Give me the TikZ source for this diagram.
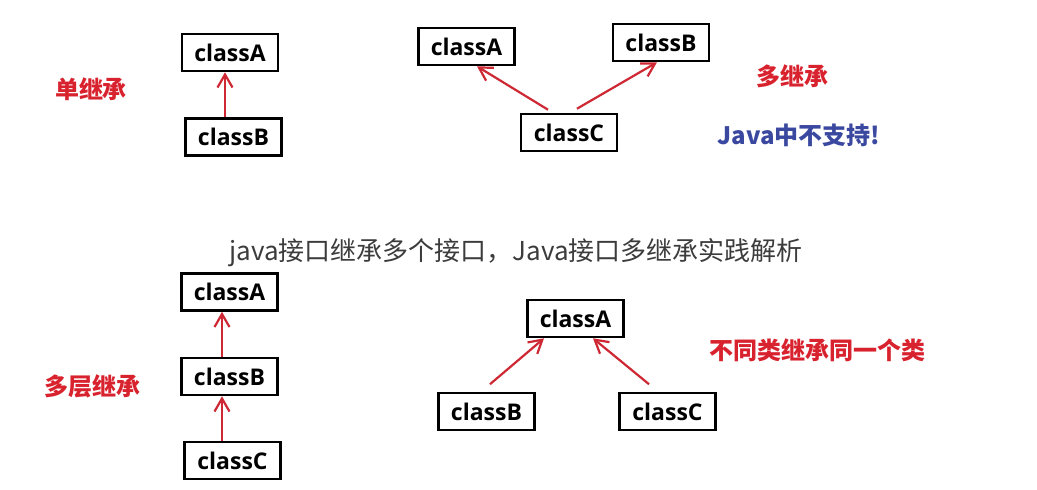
\documentclass[tikz,border=0pt]{standalone}
\usepackage{fontspec}
\setmainfont{Open Sans}
\newfontfamily\cjk{Noto Sans CJK SC}
\usetikzlibrary{arrows.meta}
\definecolor{lblred}{RGB}{216,34,46}
\definecolor{arrred}{RGB}{205,40,52}
\definecolor{lblblue}{RGB}{58,72,160}
\definecolor{titlegray}{RGB}{60,60,60}
\tikzset{
  classbox/.style={draw=black, line width=2.6pt, minimum width=96pt, minimum height=37pt,
    inner sep=0pt, font=\fontsize{23}{26}\selectfont\bfseries, text=black},
  inh/.style={draw=arrred, line width=2.2pt,
    -{Straight Barb[length=13pt,width=15pt,line width=2.2pt]}},
  redlbl/.style={text=lblred, font=\cjk\fontsize{24}{28}\selectfont\bfseries, inner sep=0pt},
  bluelbl/.style={text=lblblue, font=\cjk\fontsize{24}{28}\selectfont\bfseries, inner sep=0pt},
  titlelbl/.style={text=titlegray, font=\cjk\fontsize{26}{30}\selectfont, inner sep=0pt}
}
\begin{document}
\begin{tikzpicture}[x=1pt,y=-1pt]
\useasboundingbox[fill=white] (0,0) rectangle (1037,490);

% single inheritance
\node[classbox] (sA) at (230,52.5) {classA};
\node[classbox] (sB) at (233.5,137) {classB};
\draw[inh] ([xshift=-8.5pt]sB.north) -- ([xshift=-5pt]sA.south);
\node[redlbl] (single) at (91,89) {单继承};

% multiple inheritance
\node[classbox] (mA) at (466.5,46.5) {classA};
\node[classbox] (mB) at (661,42.5) {classB};
\node[classbox] (mC) at (569,132.5) {classC};
\draw[inh] ([shift={(-21,-3)}]mC.north) -- ([xshift=10.5pt]mA.south);
\draw[inh] ([shift={(8,-4)}]mC.north) -- ([xshift=-4pt]mB.south);
\node[redlbl] (multi) at (792,76) {多继承};
\node[bluelbl] (nosupport) at (799,135) {Java中不支持!};

% title
\node[titlelbl] (title) at (516,253) {java接口继承多个接口，Java接口多继承实践解析};

% multilevel inheritance
\node[classbox] (lA) at (229.5,292) {classA};
\node[classbox] (lB) at (229.5,376.5) {classB};
\node[classbox] (lC) at (232.5,460.5) {classC};
\draw[inh] ([xshift=-7.5pt]lB.north) -- ([xshift=-7.5pt]lA.south);
\draw[inh] ([xshift=-10.5pt]lC.north) -- ([xshift=-7.5pt]lB.south);
\node[redlbl] (multilevel) at (93,386) {多层继承};

% hierarchical inheritance
\node[classbox] (hA) at (575.5,318.5) {classA};
\node[classbox] (hB) at (486.5,411.5) {classB};
\node[classbox] (hC) at (667.5,411.5) {classC};
\draw[inh] ([shift={(3.5,-7.5)}]hB.north) -- ([xshift=-31.5pt]hA.south);
\draw[inh] ([shift={(-18.5,-7.5)}]hC.north) -- ([xshift=17.5pt]hA.south);
\node[redlbl] (hier) at (817,350) {不同类继承同一个类};
\end{tikzpicture}
\end{document}
